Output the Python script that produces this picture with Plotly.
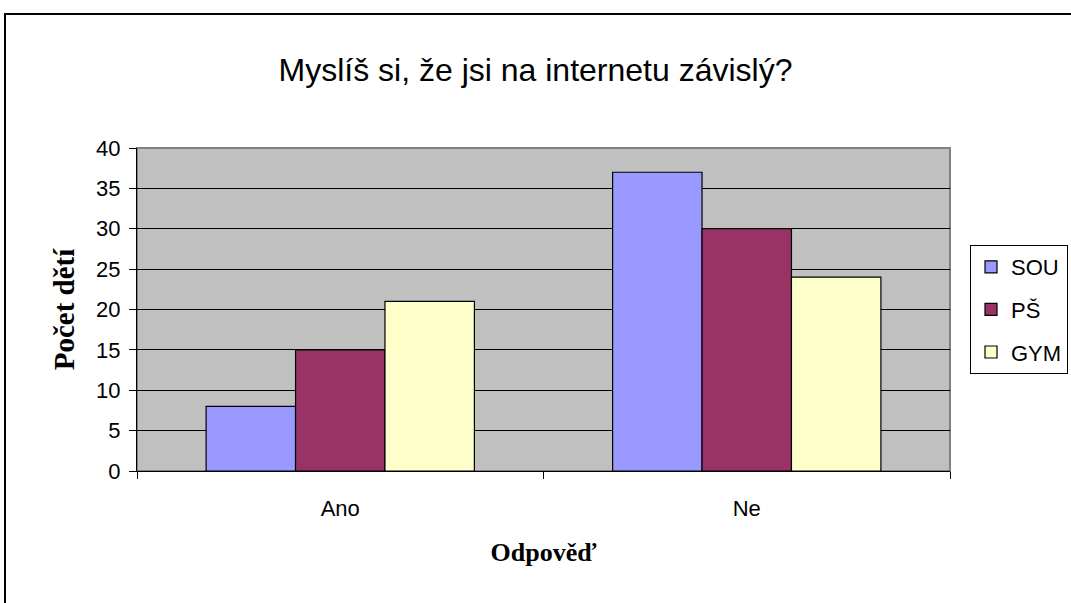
import plotly.graph_objects as go

# data
categories = ['Ano', 'Ne']
series_names = ['SOU', 'PŠ', 'GYM']
sou = [8, 37]
ps = [15, 30]
gym = [21, 24]
colors = ['#9999FF', '#993366', '#FFFFCC']
y_ticks = [0, 5, 10, 15, 20, 25, 30, 35, 40]

fig = go.Figure()
for name, vals, col in zip(series_names, [sou, ps, gym], colors):
    fig.add_trace(go.Bar(
        x=categories, y=vals, name=name, legendgroup=name,
        marker=dict(color=col, line=dict(color='black', width=1.2)),
    ))

# plot area in pixels: x 137..950, y 148..471
L, R, T, B = 137, 950, 148, 471
W, H = 1071, 603

def px(x):
    return (x - L) / (R - L)

def py(y):
    return (B - y) / (B - T)

serif = 'Liberation Serif, Times New Roman'

fig.update_layout(
    width=W, height=H,
    margin=dict(l=L, r=W - R, t=T, b=H - B, pad=0),
    paper_bgcolor='white',
    plot_bgcolor='#C0C0C0',
    barmode='group', bargap=0.34, bargroupgap=0,
    font=dict(family='Liberation Sans, Arial', color='black', size=22),
    title=dict(text='Myslíš si, že jsi na internetu závislý?',
               x=0.5, xanchor='center', y=1 - 70 / H, yanchor='middle',
               font=dict(size=32)),
    showlegend=True,
    legend=dict(xref='container', yref='container',
                x=970 / W, y=1 - 245 / H, xanchor='left', yanchor='top',
                bordercolor='black', borderwidth=1, bgcolor='white',
                traceorder='grouped', tracegroupgap=11,
                font=dict(size=22), itemwidth=30),
    xaxis=dict(showgrid=False, ticks='outside', tickson='boundaries',
               ticklen=7, tickcolor='black', linecolor='black', showline=True,
               linewidth=1, ticklabelstandoff=18,
               title=dict(text='Odpověď', standoff=22,
                          font=dict(family=serif, size=26, weight='bold'))),
    yaxis=dict(range=[0, 40], tickvals=y_ticks, showgrid=True,
               gridcolor='black', gridwidth=1, ticks='outside', ticklen=7,
               tickcolor='black', linecolor='black', showline=True,
               linewidth=1, zeroline=False, ticklabelstandoff=4,
               title=dict(text='Počet dětí', standoff=12,
                          font=dict(family=serif, size=29, weight='bold'))),
)

# gray border of plot area
fig.add_shape(type='rect', xref='paper', yref='paper', x0=0, x1=1, y0=0, y1=1,
              line=dict(color='#808080', width=2), layer='below')
# outer chart border
fig.add_shape(type='rect', xref='paper', yref='paper',
              x0=px(5), x1=px(1080), y0=py(615), y1=py(14),
              line=dict(color='black', width=2))

fig.write_html('out.html', config={'displayModeBar': False},
               post_script="document.body.style.margin='0';"
                           "document.body.style.overflow='hidden';")
